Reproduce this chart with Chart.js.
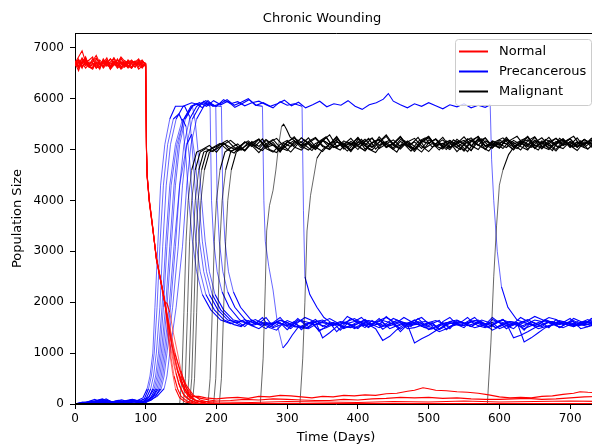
<!DOCTYPE html>
<html>
<head>
<meta charset="utf-8">
<script src="https://cdn.jsdelivr.net/npm/chart.js@4"></script>
<style>
    html, body { margin: 0; padding: 0; background: #fff; overflow: hidden; }
    #wrap { width: 592px; height: 445px; overflow: hidden; }
</style>
</head>
<body>
<div id="wrap"><canvas id="woundChart" width="644" height="445"></canvas></div>
<script>
// Normal cells before the wound, one row per run, sampled on preDays
const preDays = [0, 5, 10, 15, 20, 25, 30, 35, 40, 45, 50, 55, 60, 65, 70, 75, 80, 85, 90, 95, 100];
const normalBefore = [
    [6700, 6820, 6940, 6720, 6640, 6700, 6600, 6760, 6680, 6720, 6640, 6800, 6700, 6600, 6680, 6720, 6620, 6700, 6660, 6740, 6680],
    [6650, 6720, 6600, 6780, 6680, 6740, 6850, 6700, 6620, 6760, 6580, 6700, 6640, 6780, 6700, 6640, 6600, 6720, 6780, 6640, 6700],
    [6750, 6600, 6700, 6820, 6620, 6680, 6700, 6580, 6760, 6680, 6720, 6800, 6620, 6700, 6640, 6760, 6700, 6620, 6750, 6680, 6630],
    [6700, 6550, 6750, 6680, 6620, 6600, 6780, 6700, 6650, 6720, 6580, 6660, 6700, 6820, 6740, 6660, 6600, 6700, 6580, 6640, 6680],
    [6680, 6780, 6640, 6700, 6760, 6820, 6600, 6680, 6700, 6750, 6620, 6720, 6680, 6580, 6640, 6700, 6760, 6680, 6720, 6760, 6650],
    [6720, 6650, 6800, 6700, 6620, 6580, 6720, 6660, 6700, 6800, 6640, 6700, 6600, 6660, 6750, 6700, 6680, 6620, 6720, 6700, 6640],
    [6690, 6760, 6620, 6700, 6660, 6780, 6650, 6720, 6600, 6680, 6780, 6700, 6640, 6720, 6620, 6680, 6740, 6700, 6680, 6600, 6700],
    [6660, 6740, 6700, 6600, 6680, 6720, 6800, 6680, 6740, 6640, 6700, 6660, 6780, 6620, 6700, 6740, 6620, 6680, 6700, 6720, 6680],
    [6700, 6640, 6720, 6800, 6660, 6640, 6700, 6620, 6780, 6680, 6600, 6700, 6760, 6720, 6680, 6620, 6700, 6740, 6620, 6730, 6690],
    [6640, 6700, 6780, 6650, 6720, 6700, 6620, 6600, 6760, 6700, 6640, 6740, 6700, 6800, 6680, 6600, 6720, 6660, 6700, 6640, 6660],
    [6710, 6620, 6700, 6760, 6640, 6600, 6720, 6700, 6640, 6700, 6780, 6680, 6640, 6720, 6700, 6650, 6600, 6700, 6760, 6620, 6700]
];
// Normal cells after the wound: day, value, day, value, ...
const normalAfter = [
    [101,5100, 102,4500, 105,4000, 110,3450, 115,2850, 120,2500, 125,2150, 128,1900, 132,1400, 136,900, 140,550, 145,300, 150,150, 158,60, 168,20, 180,0, 745,0],
    [101,5000, 102,4450, 105,3980, 110,3420, 115,2880, 120,2520, 125,2130, 128,1950, 133,1500, 138,1000, 143,600, 148,350, 155,150, 165,50, 178,0, 745,0],
    [101,5050, 102,4480, 105,4020, 110,3480, 115,2830, 120,2480, 125,2170, 128,1850, 131,1450, 134,1000, 138,600, 142,300, 148,120, 156,40, 170,0, 745,0],
    [101,5000, 102,4500, 105,4000, 110,3450, 115,2900, 120,2520, 124,2150, 127,2000, 130,1980, 134,1800, 139,1400, 145,1000, 150,650, 156,350, 162,180, 170,80, 185,20, 200,0, 745,0],
    [101,5100, 102,4450, 105,3950, 110,3430, 115,2860, 120,2500, 125,2140, 128,1900, 135,1300, 142,800, 148,480, 155,250, 162,120, 172,60, 200,40, 250,30, 300,50, 350,40, 400,30, 450,50, 500,40, 550,60, 600,40, 650,50, 700,60, 745,50],
    [101,5000, 102,4500, 105,4030, 110,3460, 115,2870, 120,2510, 125,2160, 128,1920, 136,1250, 144,700, 150,450, 157,250, 165,150, 175,150, 185,120, 200,100, 215,120, 230,130, 245,110, 260,150, 275,140, 290,170, 305,160, 320,140, 335,120, 350,150, 365,140, 380,170, 395,160, 410,180, 425,170, 440,200, 455,210, 470,250, 480,270, 492,320, 500,300, 510,270, 525,260, 540,240, 555,230, 570,210, 585,180, 600,140, 615,120, 630,130, 645,120, 660,150, 675,160, 690,190, 705,210, 714,240, 725,230, 745,220],
    [101,5050, 102,4470, 105,3990, 110,3440, 115,2850, 120,2490, 125,2150, 128,1880, 138,1100, 147,600, 155,300, 163,130, 172,60, 185,20, 200,0, 745,0],
    [101,5000, 102,4520, 105,4010, 110,3470, 115,2880, 120,2530, 125,2180, 128,1950, 140,1100, 150,550, 158,300, 167,150, 178,110, 190,80, 200,60, 220,70, 240,90, 260,80, 280,100, 300,90, 320,80, 340,70, 360,70, 380,90, 400,80, 420,100, 440,110, 460,130, 480,120, 500,130, 520,110, 540,120, 560,100, 580,90, 600,90, 620,100, 640,110, 660,90, 680,100, 700,120, 720,140, 745,150],
    [101,5050, 102,4480, 105,4000, 110,3450, 115,2860, 120,2500, 125,2140, 128,1900, 134,1200, 140,750, 146,420, 153,200, 162,80, 175,20, 190,0, 745,0],
    [101,5000, 102,4460, 105,3980, 110,3430, 115,2870, 120,2510, 125,2160, 128,1870, 137,1150, 145,650, 152,380, 160,180, 170,70, 185,10, 195,0, 745,0],
    [101,5050, 102,4500, 105,4000, 110,3450, 115,2850, 120,2500, 125,2150, 128,1900, 141,1000, 150,600, 158,350, 167,180, 177,80, 190,30, 210,0, 745,0]
];

// Precancerous cells up to the end of the drop: day, value, ...
const precancerousPath = [
    [0,0, 12,10, 25,30, 35,80, 42,30, 55,20, 68,40, 80,70, 90,40, 98,100, 104,300, 108,550, 112,1000, 116,1900, 120,3100, 125,4300, 131,5100, 139,5600, 147,5700, 152,5550, 157,4800, 161,4000, 166,3200, 172,2600, 180,2150, 192,1850, 206,1650],
    [0,0, 10,20, 22,10, 34,50, 46,30, 58,60, 70,20, 82,50, 94,80, 104,120, 110,300, 114,550, 118,1000, 123,1900, 128,3100, 134,4300, 142,5100, 152,5600, 157,5450, 162,4800, 166,4000, 171,3200, 177,2600, 185,2150, 197,1850, 211,1650],
    [0,0, 15,30, 28,90, 36,40, 50,20, 64,50, 76,30, 88,70, 96,120, 102,300, 106,550, 110,1000, 113,1900, 117,3100, 121,4300, 127,5100, 134,5600, 142,5850, 155,5850, 162,5650, 167,4800, 171,4000, 176,3200, 182,2600, 190,2150, 202,1850, 216,1650],
    [0,0, 8,10, 20,40, 33,20, 45,70, 57,30, 69,60, 81,90, 93,50, 104,70, 112,180, 118,300, 122,550, 126,1000, 133,1900, 140,3100, 148,4300, 158,5100, 165,5300, 170,4800, 175,4000, 180,3200, 186,2600, 194,2150, 206,1850, 220,1650],
    [0,0, 14,20, 27,60, 39,100, 48,30, 60,40, 72,20, 84,60, 96,30, 105,150, 112,300, 116,550, 120,1000, 125,1900, 130,3100, 136,4300, 144,5100, 154,5600, 166,5850, 170,5550, 175,4800, 179,4000, 184,3200, 190,2600, 198,2150, 210,1850, 224,1650],
    [0,0, 11,40, 24,20, 37,60, 49,20, 61,70, 73,40, 85,20, 97,60, 106,100, 116,200, 122,300, 126,550, 130,1000, 138,1900, 146,3100, 152,4300, 158,5100, 166,5600, 176,5850, 182,5950, 186,5900, 191,5850, 193,4000, 196,3200, 201,2600, 208,2200, 218,1900, 233,1650],
    [0,0, 13,10, 26,50, 40,20, 52,40, 66,80, 78,30, 90,50, 100,20, 108,150, 114,300, 118,550, 122,1000, 128,1900, 134,3100, 140,4300, 146,5100, 154,5600, 164,5850, 172,5900, 180,5820, 188,5960, 194,5880, 199,5850, 201,4000, 204,3200, 209,2600, 216,2200, 226,1900, 241,1650],
    [0,0, 9,30, 21,10, 35,40, 47,60, 59,20, 71,50, 83,80, 95,40, 105,70, 116,150, 126,300, 130,550, 134,1000, 143,1900, 152,3100, 158,4300, 164,5100, 172,5600, 182,5850, 190,5920, 198,5860, 207,5850, 209,4000, 212,3200, 217,2600, 224,2200, 234,1900, 249,1650],
    [0,0, 16,20, 29,40, 38,90, 46,30, 58,10, 70,40, 79,80, 88,30, 99,60, 107,300, 111,550, 115,1000, 120,1900, 124,3100, 129,4300, 135,5100, 143,5600, 153,5850, 165,5920, 175,5880, 185,5960, 195,5850, 205,5900, 215,5980, 225,5870, 235,5930, 245,6000, 255,5870, 265,5850, 267,4000, 269,3200, 274,2700, 280,2240, 287,1500, 294,1100, 300,1200, 307,1350, 315,1500],
    [0,0, 12,30, 24,60, 37,20, 50,50, 62,30, 74,70, 86,40, 98,20, 108,80, 114,150, 120,300, 124,550, 128,1000, 135,1900, 142,3100, 148,4300, 154,5100, 162,5600, 172,5850, 180,5920, 190,5880, 200,5850, 210,5980, 220,5900, 230,5940, 240,5860, 250,5920, 260,5950, 270,5880, 280,5820, 290,5940, 300,5870, 310,5900, 321,5850, 323,3800, 325,2500, 332,2150, 342,1900, 352,1700, 362,1600],
    [0,0, 10,10, 23,30, 36,50, 44,100, 52,40, 65,20, 77,60, 89,30, 100,50, 110,150, 116,300, 120,550, 124,1000, 130,1900, 136,3100, 142,4300, 148,5100, 156,5600, 166,5850, 176,5920, 186,5850, 196,5960, 206,5880, 216,5950, 226,5830, 236,5900, 246,5980, 256,5870, 266,5920, 276,5850, 286,5900, 296,5970, 306,5860, 316,5930, 326,5820, 336,5880, 346,5950, 356,5840, 366,5900, 376,5870, 386,5960, 396,5850, 406,5790, 416,5880, 426,5920, 436,5990, 443,6100, 450,5950, 460,5880, 470,5820, 480,5900, 490,5850, 500,5920, 510,5860, 520,5800, 530,5880, 540,5840, 550,5900, 560,5820, 570,5870, 580,5830, 587,5880, 589,4800, 592,4000, 597,3000, 603,2300, 612,1900, 625,1650]
];
// Precancerous low level after malignant take-over, every 10 days from precancerousLowFrom
const precancerousLowFrom = [220, 225, 230, 235, 240, 250, 260, 265, 325, 375, 635];
const precancerousLow = [
    [1580, 1620, 1520, 1650, 1560, 1480, 1600, 1700, 1540, 1620, 1460, 1580, 1660, 1520, 1600, 1420, 1560, 1680, 1590, 1500, 1640, 1550, 1720, 1600, 1470, 1580, 1650, 1530, 1600, 1450, 1620, 1700, 1560, 1500, 1640, 1580, 1520, 1660, 1600, 1480, 1580, 1700, 1620, 1540, 1600, 1500, 1660, 1580, 1540, 1620, 1560, 1680, 1600],
    [1560, 1520, 1640, 1580, 1700, 1500, 1450, 1600, 1540, 1680, 1560, 1620, 1430, 1520, 1600, 1560, 1720, 1640, 1580, 1500, 1620, 1470, 1560, 1650, 1600, 1520, 1680, 1550, 1600, 1460, 1580, 1640, 1540, 1620, 1700, 1560, 1500, 1600, 1660, 1520, 1580, 1450, 1620, 1560, 1640, 1600, 1500, 1580, 1680, 1620, 1560, 1600, 1540],
    [1600, 1660, 1540, 1580, 1700, 1520, 1600, 1460, 1580, 1650, 1520, 1620, 1300, 1400, 1520, 1600, 1560, 1480, 1620, 1560, 1680, 1540, 1600, 1420, 1560, 1640, 1700, 1580, 1520, 1600, 1480, 1640, 1580, 1520, 1620, 1560, 1700, 1600, 1540, 1480, 1600, 1660, 1580, 1520, 1620, 1560, 1600, 1680, 1540, 1580, 1650, 1600],
    [1540, 1600, 1660, 1580, 1500, 1620, 1560, 1480, 1600, 1700, 1640, 1560, 1520, 1600, 1450, 1580, 1620, 1700, 1560, 1480, 1250, 1330, 1460, 1560, 1620, 1560, 1500, 1580, 1640, 1460, 1560, 1600, 1700, 1560, 1620, 1500, 1580, 1660, 1540, 1600, 1520, 1620, 1560, 1660, 1600, 1500, 1580, 1640, 1560, 1520, 1600],
    [1600, 1540, 1480, 1580, 1560, 1640, 1600, 1520, 1500, 1580, 1560, 1620, 1680, 1600, 1500, 1540, 1580, 1660, 1560, 1500, 1580, 1680, 1620, 1560, 1200, 1280, 1350, 1440, 1500, 1600, 1560, 1540, 1620, 1650, 1560, 1600, 1480, 1540, 1600, 1520, 1580, 1650, 1620, 1700, 1660, 1560, 1600, 1540, 1620, 1580, 1600, 1560, 1620],
    [1560, 1620, 1580, 1500, 1550, 1640, 1580, 1520, 1500, 1620, 1650, 1560, 1580, 1480, 1540, 1620, 1580, 1560, 1640, 1700, 1620, 1600, 1520, 1560, 1580, 1460, 1500, 1560, 1620, 1650, 1580, 1520, 1600, 1560, 1450, 1520, 1580, 1560, 1600, 1640, 1720, 1660, 1600, 1540, 1500, 1560, 1580, 1620, 1600, 1580, 1640],
    [1560, 1600, 1580, 1650, 1600, 1540, 1500, 1480, 1560, 1600, 1580, 1560, 1520, 1500, 1580, 1640, 1620, 1580, 1520, 1560, 1600, 1480, 1500, 1550, 1600, 1640, 1580, 1520, 1560, 1580, 1620, 1540, 1500, 1560, 1620, 1580, 1300, 1350, 1420, 1500, 1560, 1620, 1600, 1620, 1580, 1540, 1560, 1580, 1620],
    [1550, 1580, 1600, 1560, 1520, 1650, 1620, 1580, 1450, 1500, 1560, 1620, 1600, 1500, 1560, 1640, 1600, 1520, 1580, 1600, 1700, 1620, 1560, 1500, 1480, 1560, 1600, 1580, 1620, 1540, 1580, 1650, 1600, 1500, 1560, 1620, 1580, 1480, 1540, 1600, 1640, 1560, 1580, 1600, 1620, 1480, 1520, 1560, 1580],
    [1560, 1600, 1620, 1580, 1540, 1600, 1580, 1480, 1540, 1560, 1600, 1640, 1600, 1520, 1580, 1560, 1600, 1620, 1580, 1480, 1560, 1600, 1620, 1560, 1500, 1540, 1580, 1620, 1650, 1600, 1540, 1600, 1560, 1480, 1520, 1560, 1640, 1600, 1540, 1560, 1620, 1580, 1520],
    [1560, 1620, 1680, 1600, 1520, 1560, 1600, 1480, 1540, 1600, 1580, 1620, 1550, 1500, 1420, 1480, 1560, 1600, 1580, 1640, 1600, 1560, 1500, 1580, 1620, 1600, 1220, 1300, 1400, 1500, 1550, 1600, 1560, 1520, 1600, 1660, 1580, 1600],
    [1600, 1560, 1520, 1580, 1620, 1560, 1600, 1520, 1580, 1620, 1560]
];

// Malignant cells up to the end of the climb: day, value, ...
const malignantRise = [
    [0,0, 148,0, 151,500, 154,1800, 157,3200, 160,4000, 165,4600, 172,4950],
    [0,0, 153,0, 156,500, 159,1800, 162,3200, 165,4000, 170,4600, 177,4950],
    [0,0, 158,0, 161,500, 164,1800, 167,3200, 170,4000, 175,4600, 182,4950],
    [0,0, 162,0, 165,500, 168,1800, 171,3200, 174,4000, 179,4600, 186,4950],
    [0,0, 166,0, 169,500, 172,1800, 175,3200, 178,4000, 183,4600, 190,4950],
    [0,0, 188,0, 191,500, 194,1800, 197,3200, 200,4000, 205,4600, 212,4950],
    [0,0, 196,0, 199,500, 202,1800, 205,3200, 208,4000, 213,4600, 220,4950],
    [0,0, 204,0, 207,500, 210,1800, 213,3200, 216,4000, 221,4600, 228,4950],
    [0,0, 262,0, 266,900, 269,2300, 271,3400, 275,3900, 280,4200, 284,4600, 288,5100, 292,5450, 295,5500, 299,5400, 304,5250, 312,5150],
    [0,0, 318,0, 322,900, 325,2000, 328,3400, 333,4100, 338,4500, 342,4830, 350,5000],
    [0,0, 583,0, 588,1200, 592,2500, 596,3500, 600,4300, 605,4600, 613,4900]
];
// Malignant plateau, every 10 days from malignantFrom
const malignantFrom = [180, 185, 190, 195, 200, 220, 230, 240, 320, 360, 620];
const malignantLevel = [
    [5000, 5080, 4950, 5120, 5040, 4980, 5150, 5060, 5200, 5020, 4950, 5100, 5180, 5050, 4990, 5130, 5220, 5060, 5000, 5150, 5090, 4980, 5200, 5120, 5040, 5250, 5100, 5000, 5160, 5080, 4960, 5140, 5230, 5070, 5010, 5180, 5100, 4970, 5150, 5260, 5080, 5030, 5190, 5110, 4990, 5170, 5090, 5240, 5060, 5000, 5140, 5210, 5080, 4980, 5150, 5100, 5060],
    [5020, 4960, 5100, 5180, 5040, 4990, 5140, 5070, 5210, 5000, 4940, 5120, 5060, 5190, 5090, 4980, 5160, 5250, 5040, 5100, 4970, 5130, 5080, 5220, 5010, 5150, 5060, 4950, 5180, 5100, 5240, 5030, 5120, 4990, 5170, 5080, 5000, 5210, 5130, 5050, 4970, 5160, 5230, 5090, 5020, 5150, 5070, 4990, 5200, 5120, 5040, 5180, 5260, 5070, 5010, 5140, 5090],
    [4990, 5060, 5130, 4970, 5020, 5150, 5080, 4940, 5110, 5200, 5040, 4980, 5160, 5090, 5230, 5050, 4960, 5120, 5180, 5010, 5090, 5240, 5070, 4990, 5150, 5290, 5100, 5030, 5170, 5060, 4950, 5130, 5210, 5080, 5000, 5160, 5120, 4980, 5220, 5070, 5140, 5030, 5190, 5100, 4990, 5170, 5250, 5060, 5120, 5000, 5180, 5090, 5230, 5040, 5150, 5100],
    [5040, 5120, 5000, 4930, 5090, 5170, 5050, 4980, 5140, 5220, 5070, 4950, 5110, 5190, 5030, 5100, 5240, 5060, 4990, 5150, 5080, 5200, 5010, 4940, 5130, 5180, 5060, 5110, 4970, 5160, 5230, 5050, 5120, 5000, 5190, 5090, 4960, 5150, 5210, 5070, 5130, 5020, 5180, 5260, 5080, 5040, 5160, 5100, 4980, 5220, 5120, 5050, 5170, 5010, 5140, 5200],
    [5010, 5100, 5180, 5060, 4970, 5130, 5210, 5040, 5090, 4950, 5160, 5080, 5230, 5120, 5000, 5170, 5290, 5060, 5130, 4990, 5090, 5200, 5050, 5140, 5260, 5080, 5010, 5150, 5220, 5070, 4960, 5110, 5190, 5040, 5120, 5250, 5080, 5000, 5170, 5100, 5030, 5210, 5140, 5060, 4990, 5180, 5110, 5240, 5070, 5020, 5160, 5100, 5200, 5050, 5130],
    [5030, 5110, 4980, 5160, 5060, 5200, 5090, 5010, 5140, 5250, 5070, 4990, 5120, 5180, 5040, 5210, 5100, 4960, 5150, 5080, 5230, 5020, 5110, 5190, 5060, 5140, 5000, 5170, 5260, 5080, 5120, 5030, 5200, 5090, 4980, 5160, 5230, 5070, 5110, 5040, 5180, 5100, 5250, 5020, 5150, 5090, 4970, 5140, 5210, 5060, 5120, 5180, 5050],
    [5050, 4990, 5120, 5200, 5060, 5140, 4970, 5090, 5180, 5030, 5160, 5240, 5080, 5010, 5150, 5100, 5220, 5060, 4980, 5130, 5190, 5040, 5110, 5260, 5070, 5000, 5170, 5120, 5210, 5050, 5140, 4960, 5100, 5190, 5080, 5230, 5030, 5150, 5110, 5000, 5180, 5240, 5070, 5130, 5020, 5160, 5090, 5210, 5050, 5120, 5180, 5080],
    [5060, 5140, 5010, 5180, 5090, 4980, 5150, 5230, 5070, 5120, 5000, 5190, 5100, 5260, 5040, 5160, 5080, 4970, 5130, 5210, 5050, 5110, 5240, 5080, 5020, 5170, 5120, 5200, 5030, 5150, 5090, 4990, 5180, 5250, 5060, 5130, 5040, 5200, 5110, 5170, 5010, 5140, 5230, 5070, 5100, 5190, 5040, 5150, 5080, 5220, 5110],
    [5080, 5150, 5030, 5190, 5100, 5240, 5060, 5130, 5000, 5170, 5220, 5080, 5140, 5030, 5200, 5110, 4990, 5160, 5250, 5070, 5120, 5180, 5040, 5150, 5230, 5090, 5010, 5170, 5120, 5200, 5060, 5140, 5260, 5080, 5030, 5180, 5110, 5210, 5050, 5150, 5100, 5190, 5070],
    [5100, 5040, 5170, 5090, 5230, 5010, 5140, 5200, 5060, 5120, 5250, 5080, 5150, 5020, 5190, 5110, 5240, 5050, 5130, 5180, 5070, 5210, 5000, 5160, 5100, 5240, 5060, 5140, 5190, 5030, 5170, 5110, 5220, 5080, 5150, 5040, 5200, 5120, 5090],
    [5040, 5120, 5070, 5180, 5010, 5150, 5220, 5090, 5130, 5060, 5200, 5110, 5160]
];

const chartTitle = 'Chronic Wounding';
const seriesNames = ['Normal', 'Precancerous', 'Malignant'];
const xTicks = [0, 100, 200, 300, 400, 500, 600, 700];
const yTicks = [0, 1000, 2000, 3000, 4000, 5000, 6000, 7000];

const colors = { Normal: '#ff0000', Precancerous: '#0000ff', Malignant: '#000000' };
const FONT = "'DejaVu Sans', sans-serif";

function toPoints(flat) {
    const points = [];
    for (let i = 0; i < flat.length; i += 2) {
        points.push({ x: flat[i], y: flat[i + 1] });
    }
    return points;
}

function stepPoints(from, values) {
    return values.map((v, i) => ({ x: from + i * 10, y: v }));
}

// steep parts of a trace look thin and grey in the original
const segmentWidth = (ctx) => {
    const dx = Math.abs(ctx.p1.x - ctx.p0.x);
    const dy = Math.abs(ctx.p1.y - ctx.p0.y);
    return dy > 3 * dx + 3 ? 0.6 : 1.1;
};

function makeDataset(name, i, points) {
    return {
        label: name + ' ' + (i + 1),
        data: points,
        borderColor: colors[name],
        borderWidth: 1.1,
        segment: { borderWidth: segmentWidth },
        pointRadius: 0,
        tension: 0,
        fill: false,
    };
}

const normalSets = normalBefore.map((row, i) =>
    makeDataset('Normal', i, preDays.map((d, j) => ({ x: d, y: row[j] })).concat(toPoints(normalAfter[i]))));
const malignantSets = malignantRise.map((rise, i) =>
    makeDataset('Malignant', i, toPoints(rise).concat(stepPoints(malignantFrom[i], malignantLevel[i]))));
const precancerousSets = precancerousPath.map((path, i) =>
    makeDataset('Precancerous', i, toPoints(path).concat(stepPoints(precancerousLowFrom[i], precancerousLow[i]))));

// first datasets end up on top in Chart.js
const datasets = [...normalSets, ...malignantSets, ...precancerousSets];

// top/right spines and the figure title (centred on the full figure, not the axes)
const frame = {
    id: 'frame',
    afterDatasetsDraw(chart) {
        const { ctx, chartArea: a } = chart;
        ctx.save();
        ctx.strokeStyle = '#000';
        ctx.lineWidth = 1;
        ctx.beginPath();
        ctx.moveTo(a.left, a.top + 0.5);
        ctx.lineTo(a.right + 0.5, a.top + 0.5);
        ctx.lineTo(a.right + 0.5, a.bottom);
        ctx.stroke();

        ctx.font = '13px ' + FONT;
        ctx.fillStyle = '#000';
        ctx.textAlign = 'center';
        ctx.textBaseline = 'middle';
        ctx.fillText(chartTitle, 322, 19);
        ctx.restore();
    },
};

const boxLegend = {
    id: 'boxLegend',
    afterDraw(chart) {
        const { ctx } = chart;
        const left = 455.5, top = 39.5, width = 136, height = 66;
        ctx.save();
        ctx.beginPath();
        ctx.roundRect(left, top, width, height, 3);
        ctx.fillStyle = 'rgba(255,255,255,0.8)';
        ctx.fill();
        ctx.strokeStyle = '#cccccc';
        ctx.lineWidth = 1;
        ctx.stroke();

        ctx.font = '13px ' + FONT;
        ctx.textBaseline = 'middle';
        ctx.textAlign = 'left';
        seriesNames.forEach((name, i) => {
            const y = 51.5 + i * 20;
            ctx.strokeStyle = colors[name];
            ctx.lineWidth = 2;
            ctx.beginPath();
            ctx.moveTo(459, y);
            ctx.lineTo(488, y);
            ctx.stroke();
            ctx.fillStyle = '#000';
            ctx.fillText(name, 499, y);
        });
        ctx.restore();
    },
};

new Chart(document.getElementById('woundChart'), {
    type: 'line',
    data: { datasets },
    options: {
        responsive: false,
        animation: false,
        events: [],
        layout: { padding: { left: 0, right: 47, top: 33, bottom: 0 } },
        scales: {
            x: {
                type: 'linear',
                min: 0,
                max: 738,
                afterFit: (scale) => { scale.height = 41; },
                afterBuildTicks: (scale) => { scale.ticks = xTicks.map((v) => ({ value: v })); },
                grid: { drawOnChartArea: false, color: '#000', tickLength: 5 },
                border: { color: '#000', width: 1 },
                ticks: {
                    color: '#000', padding: 3, maxRotation: 0,
                    font: { family: FONT, size: 12 },
                    callback: (v) => String(v),
                },
                title: {
                    display: true,
                    text: 'Time (Days)',
                    color: '#000',
                    padding: { top: 0, bottom: 0 },
                    font: { family: FONT, size: 13 },
                },
            },
            y: {
                min: 0,
                max: 7290,
                afterFit: (scale) => { scale.width = 75; },
                afterBuildTicks: (scale) => { scale.ticks = yTicks.map((v) => ({ value: v })); },
                grid: { drawOnChartArea: false, color: '#000', tickLength: 5 },
                border: { color: '#000', width: 1 },
                ticks: {
                    color: '#000', padding: 6,
                    font: { family: FONT, size: 12 },
                    callback: (v) => String(v),
                },
                title: {
                    display: true,
                    text: 'Population Size',
                    color: '#000',
                    padding: { top: 10, bottom: 0 },
                    font: { family: FONT, size: 13 },
                },
            },
        },
        plugins: {
            legend: { display: false },
            tooltip: { enabled: false },
            title: { display: false },
        },
    },
    plugins: [frame, boxLegend],
});
</script>
</body>
</html>
